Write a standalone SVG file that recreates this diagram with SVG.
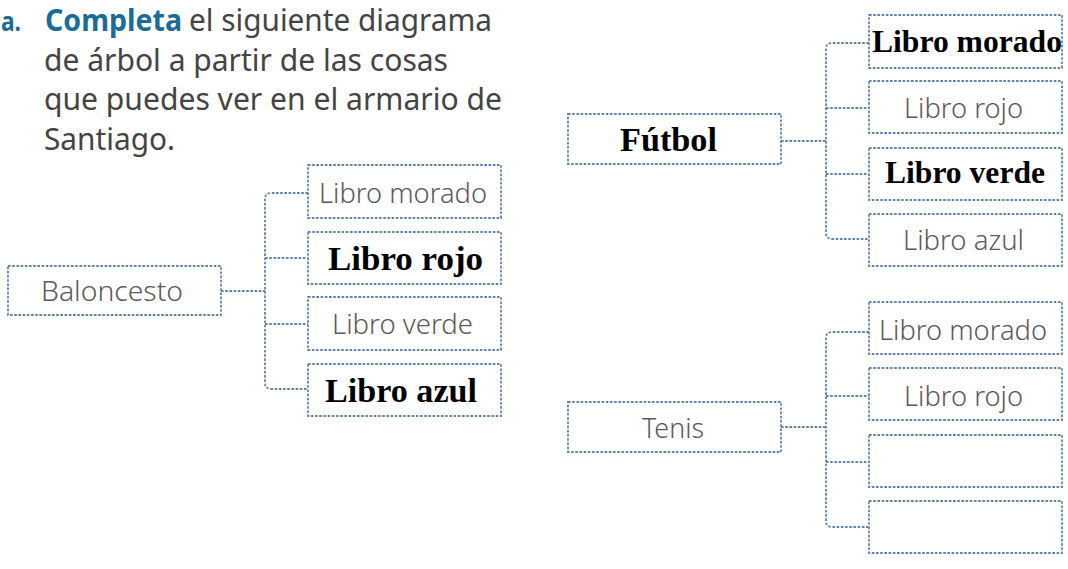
<svg xmlns="http://www.w3.org/2000/svg" width="1068" height="569" viewBox="0 0 1068 569">
<style>
.box{fill:none;stroke:#6384b3;stroke-width:1.8;stroke-dasharray:2.6 1.6}
.con{fill:none;stroke:#6384b3;stroke-width:1.8;stroke-dasharray:2.6 1.6}
.g{font-family:"Noto Sans","Liberation Sans",sans-serif;font-size:27px;fill:#5a5a5a;font-weight:300}
.b{font-family:"Liberation Serif","Times New Roman",serif;font-weight:bold;fill:#000}
.h{font-family:"Noto Sans","Liberation Sans",sans-serif;font-size:30px;fill:#444}
.blue{fill:#1b6d97;font-weight:bold}
</style>
<rect width="1068" height="569" fill="#ffffff"/>
<g id="header">
<text class="h blue" x="1" y="31" style="font-size:27px;font-weight:700" textLength="20" lengthAdjust="spacingAndGlyphs">a.</text>
<text class="h blue" x="45" y="31" textLength="137" lengthAdjust="spacingAndGlyphs">Completa</text>
<text class="h" x="189" y="31" textLength="303" lengthAdjust="spacingAndGlyphs">el siguiente diagrama</text>
<text class="h" x="44" y="71" textLength="404" lengthAdjust="spacingAndGlyphs">de árbol a partir de las cosas</text>
<text class="h" x="44" y="110" textLength="458" lengthAdjust="spacingAndGlyphs">que puedes ver en el armario de</text>
<text class="h" x="44" y="150" textLength="131" lengthAdjust="spacingAndGlyphs">Santiago.</text>
</g>
<g id="connectors">
<path class="con" d="M221 291 H265"/>
<path class="con" d="M308 193 H271 Q265 193 265 199 V383 Q265 389 271 389 H308"/>
<path class="con" d="M265 258 H308 M265 324 H308"/>
<path class="con" d="M781 141 H826"/>
<path class="con" d="M869 43 H832 Q826 43 826 49 V233 Q826 239 832 239 H869"/>
<path class="con" d="M826 108 H869 M826 174 H869"/>
<path class="con" d="M781 427 H826"/>
<path class="con" d="M869 332 H832 Q826 332 826 338 V521 Q826 527 832 527 H869"/>
<path class="con" d="M826 396 H869 M826 462 H869"/>
</g>
<g id="baloncesto">
<rect class="box" x="8" y="266" width="213" height="49"/>
<text class="g" x="41" y="301" textLength="142" lengthAdjust="spacingAndGlyphs">Baloncesto</text>
</g>
<g id="b-morado">
<rect class="box" x="308" y="165" width="193" height="53"/>
<text class="g" x="319" y="203" textLength="168" lengthAdjust="spacingAndGlyphs">Libro morado</text>
</g>
<g id="b-rojo">
<rect class="box" x="308" y="232" width="193" height="52"/>
<text class="b" x="328" y="270" font-size="34" textLength="155" lengthAdjust="spacingAndGlyphs">Libro rojo</text>
</g>
<g id="b-verde">
<rect class="box" x="308" y="297" width="193" height="53"/>
<text class="g" x="332" y="334" textLength="141" lengthAdjust="spacingAndGlyphs">Libro verde</text>
</g>
<g id="b-azul">
<rect class="box" x="308" y="364" width="193" height="52"/>
<text class="b" x="325" y="402" font-size="34" textLength="152" lengthAdjust="spacingAndGlyphs">Libro azul</text>
</g>
<g id="futbol">
<rect class="box" x="568" y="114" width="213" height="50"/>
<text class="b" x="620" y="151" font-size="34" textLength="97" lengthAdjust="spacingAndGlyphs">Fútbol</text>
</g>
<g id="f-morado">
<rect class="box" x="869" y="15" width="193" height="53"/>
<text class="b" x="872" y="52" font-size="31.5" textLength="190" lengthAdjust="spacingAndGlyphs">Libro morado</text>
</g>
<g id="f-rojo">
<rect class="box" x="869" y="81" width="193" height="52"/>
<text class="g" x="904" y="118" textLength="119" lengthAdjust="spacingAndGlyphs">Libro rojo</text>
</g>
<g id="f-verde">
<rect class="box" x="869" y="148" width="193" height="52"/>
<text class="b" x="885" y="183" font-size="31.5" textLength="160" lengthAdjust="spacingAndGlyphs">Libro verde</text>
</g>
<g id="f-azul">
<rect class="box" x="869" y="214" width="193" height="52"/>
<text class="g" x="903" y="250" textLength="121" lengthAdjust="spacingAndGlyphs">Libro azul</text>
</g>
<g id="tenis">
<rect class="box" x="568" y="402" width="213" height="50"/>
<text class="g" x="642" y="438" textLength="62" lengthAdjust="spacingAndGlyphs">Tenis</text>
</g>
<g id="t-morado">
<rect class="box" x="869" y="302" width="193" height="52"/>
<text class="g" x="879" y="340" textLength="168" lengthAdjust="spacingAndGlyphs">Libro morado</text>
</g>
<g id="t-rojo">
<rect class="box" x="869" y="368" width="193" height="52"/>
<text class="g" x="904" y="406" textLength="119" lengthAdjust="spacingAndGlyphs">Libro rojo</text>
</g>
<g id="t-empty1">
<rect class="box" x="869" y="435" width="193" height="52"/>
</g>
<g id="t-empty2">
<rect class="box" x="869" y="501" width="193" height="52"/>
</g>
</svg>
